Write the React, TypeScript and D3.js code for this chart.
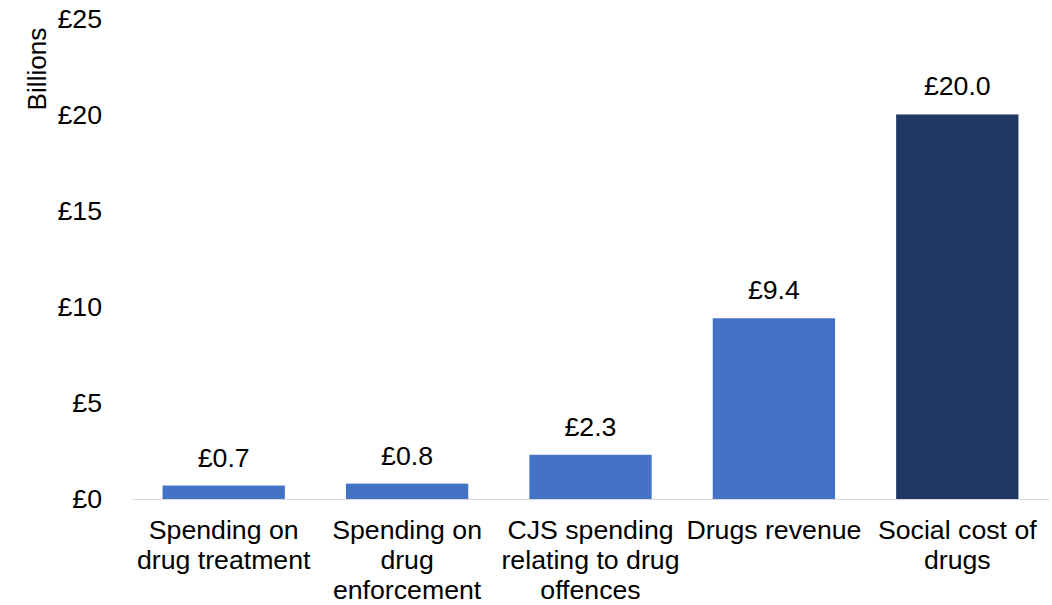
import React from "react";
import * as d3 from "d3";

const categories: string[][] = [
  ["Spending on", "drug treatment"],
  ["Spending on", "drug", "enforcement"],
  ["CJS spending", "relating to drug", "offences"],
  ["Drugs revenue"],
  ["Social cost of", "drugs"],
];
const values: number[] = [0.7, 0.8, 2.3, 9.4, 20.0];
const barColors: string[] = ["#4472C4", "#4472C4", "#4472C4", "#4472C4", "#203864"];
const yTicks: number[] = [0, 5, 10, 15, 20, 25];

const W = 1052;
const H = 605;
const FONT = "'Liberation Sans', Arial, sans-serif";
const FS = 26.7;

export default function App() {
  const x = d3
    .scaleBand<number>()
    .domain(values.map((_, i) => i))
    .range([132, 1049])
    .paddingInner(0.333)
    .paddingOuter(0.1665);
  const y = d3.scaleLinear().domain([0, 25]).range([499, 18.3]);

  return (
    <svg
      width={W}
      height={H}
      style={{ position: "absolute", left: 0, top: 0, fontFamily: FONT }}
    >
      <rect width={W} height={H} fill="#fff" />
      {yTicks.map((t) => (
        <text
          key={t}
          x={102}
          y={y(t)}
          dy="0.35em"
          textAnchor="end"
          fontSize={FS}
          fill="#000"
        >
          {`£${t}`}
        </text>
      ))}
      <text
        transform={`translate(46,69) rotate(-90)`}
        textAnchor="middle"
        fontSize={FS * 0.98}
        fill="#000"
      >
        Billions
      </text>
      {values.map((v, i) => (
        <g key={i}>
          <rect
            x={x(i)!}
            y={y(v)}
            width={x.bandwidth()}
            height={y(0) - y(v)}
            fill={barColors[i]}
          />
          <text
            x={x(i)! + x.bandwidth() / 2}
            y={y(v) - 19}
            textAnchor="middle"
            fontSize={FS}
            fill="#000"
          >
            {`£${v.toFixed(1)}`}
          </text>
          {categories[i].map((line, j) => (
            <text
              key={j}
              x={x(i)! + x.bandwidth() / 2}
              y={539 + j * 30}
              textAnchor="middle"
              fontSize={FS}
              fill="#000"
            >
              {line}
            </text>
          ))}
        </g>
      ))}
      <line x1={132} x2={1049} y1={499.5} y2={499.5} stroke="#D9D9D9" strokeWidth={1} />
    </svg>
  );
}
